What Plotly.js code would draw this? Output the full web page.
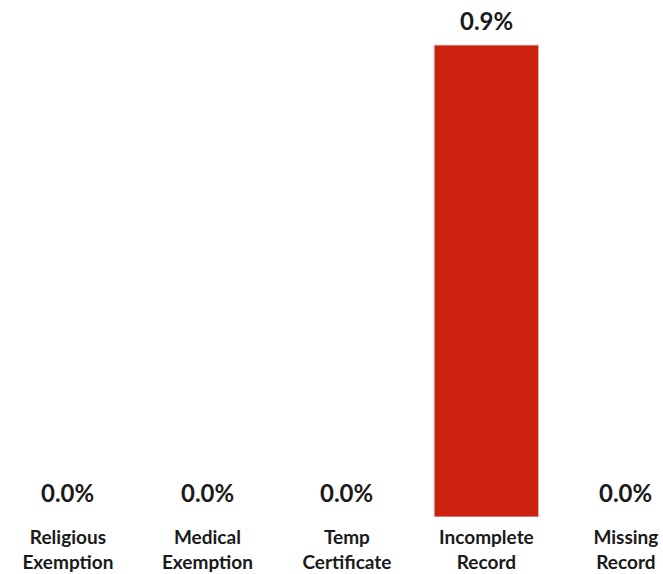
<!DOCTYPE html>
<html>
<head>
<meta charset="utf-8">
<script src="https://cdn.plot.ly/plotly-3.0.1.min.js"></script>
<style>html,body{margin:0;padding:0;background:#fff;}#chart{width:663px;height:574px;}</style>
</head>
<body>
<div id="chart"></div>
<script>
const categories = ["Religious<br>Exemption", "Medical<br>Exemption", "Temp<br>Certificate", "Incomplete<br>Record", "Missing<br>Record"];
const values = [0.0, 0.0, 0.0, 0.9, 0.0];
const labels = values.map(v => v.toFixed(1) + "%");

const FONT = "Lato, 'Noto Sans', sans-serif";

const trace = {
  type: "bar",
  x: categories,
  y: values,
  marker: {color: "#CD2110", line: {color: "#d4d4d4", width: values.map(v => v > 0 ? 1 : 0)}},
  hoverinfo: "skip"
};

const annotations = categories.map((c, i) => ({
  x: c, y: values[i], xref: "x", yref: "y",
  text: labels[i], showarrow: false,
  yanchor: "bottom", yshift: 8,
  font: {family: FONT, size: 24, color: "#1a1a1a", weight: "bold"}
}));

const layout = {
  width: 663, height: 574,
  margin: {l: 0, r: 0, t: 0, b: 57},
  paper_bgcolor: "#ffffff",
  plot_bgcolor: "#ffffff",
  bargap: 0.25,
  showlegend: false,
  xaxis: {
    type: "category",
    range: [-0.487, 4.266],
    showgrid: false, zeroline: false, showline: false,
    ticks: "", ticklen: 0,
    ticklabelstandoff: 7,
    tickfont: {family: FONT, size: 19, color: "#1a1a1a", weight: "bold"},
    fixedrange: true
  },
  yaxis: {
    range: [0, 0.9858],
    showgrid: false, zeroline: false, showline: false,
    showticklabels: false, ticks: "",
    fixedrange: true
  },
  annotations: annotations
};

Plotly.newPlot("chart", [trace], layout, {displayModeBar: false, staticPlot: true});
</script>
</body>
</html>
